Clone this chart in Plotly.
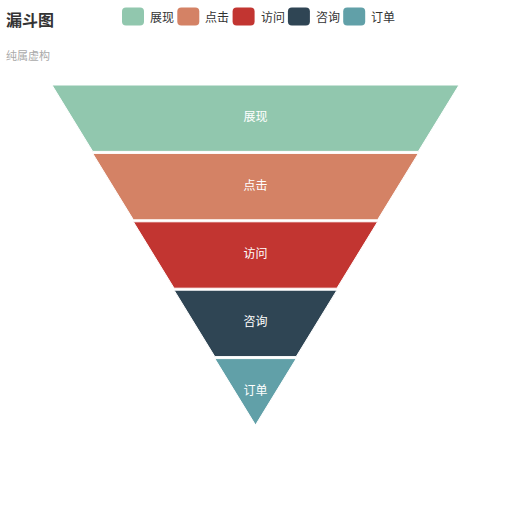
import plotly.graph_objects as go

categories = ["展现", "点击", "访问", "咨询", "订单"]
values = [100, 80, 60, 40, 20]
colors = ["#91c7ae", "#d48265", "#c23531", "#2f4554", "#61a0a8"]
title_text = "漏斗图"
subtitle_text = "纯属虚构"

FONT = "Noto Sans CJK SC"
W = H = 512
ML, MR, MT, MB = 52, 53, 85, 87
PW, PH = W - ML - MR, H - MT - MB

n = len(values)
total_h = 340.0
gap = 2.0
h = (total_h - gap * (n - 1)) / n


def px(xp):
    return (xp - ML) / PW


def py(yp):
    return 1 + (MT - yp) / PH


fig = go.Figure()
centers = []
for i, (cat, v, c) in enumerate(zip(categories, values, colors)):
    nxt = values[i + 1] if i + 1 < n else 0
    top = i * (h + gap)
    bot = top + h
    xs = [-v / 2, v / 2, nxt / 2, -nxt / 2, -v / 2]
    ys = [top, top, bot, bot, top]
    centers.append((top + bot) / 2)
    fig.add_trace(go.Scatter(
        x=xs, y=ys, fill="toself", fillcolor=c, mode="lines",
        line=dict(color="#ffffff", width=1), name=cat,
        hoverinfo="name", showlegend=False,
    ))

fig.add_trace(go.Scatter(
    x=[0] * n, y=centers, mode="text", text=categories,
    textfont=dict(color="#ffffff", size=12, family=FONT),
    showlegend=False, hoverinfo="skip",
))

# custom legend (rounded rect icons + labels)
shapes = []
annotations = []
leg_x0, leg_step, icon_w, icon_h, leg_cy, r = 122, 55.3, 22, 18, 16.5, 4
for i, (cat, c) in enumerate(zip(categories, colors)):
    x0 = leg_x0 + i * leg_step
    x1 = x0 + icon_w
    y0 = leg_cy - icon_h / 2
    y1 = leg_cy + icon_h / 2
    pts = (
        f"M {px(x0 + r)},{py(y0)} L {px(x1 - r)},{py(y0)} "
        f"Q {px(x1)},{py(y0)} {px(x1)},{py(y0 + r)} "
        f"L {px(x1)},{py(y1 - r)} Q {px(x1)},{py(y1)} {px(x1 - r)},{py(y1)} "
        f"L {px(x0 + r)},{py(y1)} Q {px(x0)},{py(y1)} {px(x0)},{py(y1 - r)} "
        f"L {px(x0)},{py(y0 + r)} Q {px(x0)},{py(y0)} {px(x0 + r)},{py(y0)} Z"
    )
    shapes.append(dict(type="path", path=pts, xref="paper", yref="paper",
                       fillcolor=c, line=dict(width=0)))
    annotations.append(dict(text=cat, xref="paper", yref="paper",
                            x=px(x1 + 4), y=py(leg_cy), xanchor="left",
                            yanchor="middle", showarrow=False,
                            font=dict(size=12, family=FONT, color="#333333")))

annotations += [
    dict(text="<b>" + title_text + "</b>", xref="paper", yref="paper",
         x=px(4), y=py(19), xanchor="left", yanchor="middle",
         showarrow=False, font=dict(size=16, family=FONT, color="#333333")),
    dict(text=subtitle_text, xref="paper", yref="paper",
         x=px(4), y=py(55), xanchor="left", yanchor="middle",
         showarrow=False, font=dict(size=11, family=FONT, color="#aaaaaa")),
]

fig.update_layout(
    width=W, height=H,
    margin=dict(l=ML, r=MR, t=MT, b=MB),
    paper_bgcolor="#ffffff", plot_bgcolor="#ffffff",
    xaxis=dict(range=[-50, 50], visible=False, fixedrange=True),
    yaxis=dict(range=[total_h, 0], visible=False, fixedrange=True),
    showlegend=False,
    shapes=shapes,
    annotations=annotations,
)

fig.write_html("out.html")
